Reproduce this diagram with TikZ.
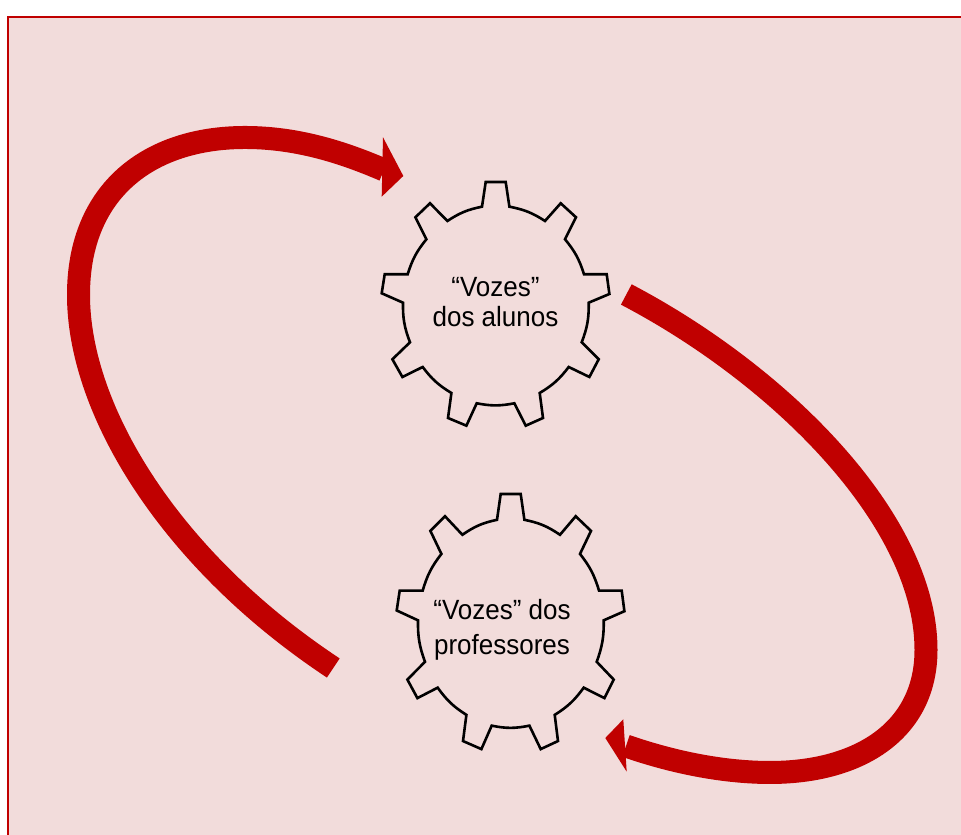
\documentclass[tikz,border=0pt]{standalone}
\usepackage{fontspec}
\setmainfont{Liberation Sans}
\definecolor{panelred}{HTML}{C00000}
\definecolor{panelpink}{HTML}{F2DCDB}
\tikzset{
  gearline/.style={line width=0.26mm,black,line join=miter},
  bigarrow/.style={line width=2.3mm,panelred},
  bighead/.style={fill=panelred},
  voicelabel/.style={align=center,inner sep=0pt,yscale=1.07,transform shape}
}
% one gear round (0,0), nine teeth
\newcommand{\gearpath}{(-0.10,1.22) -- (0.10,1.22) -- (0.137,0.973) to[bend left=11] (0.493,0.83)
  -- (0.65,1.007) -- (0.803,0.867) -- (0.693,0.647) to[bend left=11] (0.883,0.297)
  -- (1.11,0.297) -- (1.137,0.10) -- (0.93,0.013) to[bend left=11] (0.86,-0.383)
  -- (1.03,-0.553) -- (0.937,-0.73) -- (0.73,-0.63) to[bend left=11] (0.44,-0.89)
  -- (0.473,-1.14) -- (0.30,-1.217) -- (0.187,-0.993) to[bend left=11] (-0.19,-0.993)
  -- (-0.293,-1.217) -- (-0.477,-1.14) -- (-0.443,-0.89) to[bend left=11] (-0.73,-0.63)
  -- (-0.933,-0.73) -- (-1.033,-0.553) -- (-0.857,-0.383) to[bend left=11] (-0.927,0.013)
  -- (-1.14,0.107) -- (-1.11,0.297) -- (-0.88,0.297) to[bend left=11] (-0.693,0.647)
  -- (-0.803,0.867) -- (-0.657,1.007) -- (-0.483,0.83) to[bend left=11] (-0.137,0.973) -- cycle}
\begin{document}
\begin{tikzpicture}
\clip (0,0) rectangle (9.61,8.35);
% panel, right and bottom edges are cut off
\draw[line width=0.18mm,panelred,fill=panelpink] (0.08,-0.5) rectangle (10,8.18);
% gears
\draw[gearline,shift={(4.957,5.31)}] \gearpath;
\draw[gearline,shift={(5.107,2.133)},yscale=1.047] \gearpath;
% gear labels
\node[voicelabel,font=\fontsize{7.4}{7.95}\selectfont] (alunos) at (4.955,5.33) {“Vozes”\\dos alunos};
\node[voicelabel,font=\fontsize{7.4}{9.4}\selectfont] (professores) at (5.02,2.05) {“Vozes” dos\\professores};
% arrow ends
\coordinate (leftstart) at (3.333,1.67);
\coordinate (leftend) at (3.84,6.65);
\coordinate (rightstart) at (6.263,5.405);
\coordinate (rightend) at (6.26,0.89);
% big arrows
\draw[bigarrow] (leftstart) .. controls (1.70,2.75) and (0.785,4.25) .. (0.785,5.40)
  .. controls (0.785,6.45) and (1.50,6.975) .. (2.45,6.975)
  .. controls (2.95,6.975) and (3.40,6.84) .. (leftend);
\draw[bigarrow] (rightstart) .. controls (7.80,4.60) and (9.26,3.15) .. (9.26,1.85)
  .. controls (9.26,1.05) and (8.60,0.625) .. (7.70,0.625)
  .. controls (7.25,0.625) and (6.75,0.72) .. (rightend);
% arrow heads
\fill[bighead] (3.83,6.977) -- (4.033,6.59) -- (3.817,6.383) -- cycle;
\fill[bighead] (6.233,1.157) -- (6.053,0.97) -- (6.267,0.633) -- cycle;
\end{tikzpicture}
\end{document}
